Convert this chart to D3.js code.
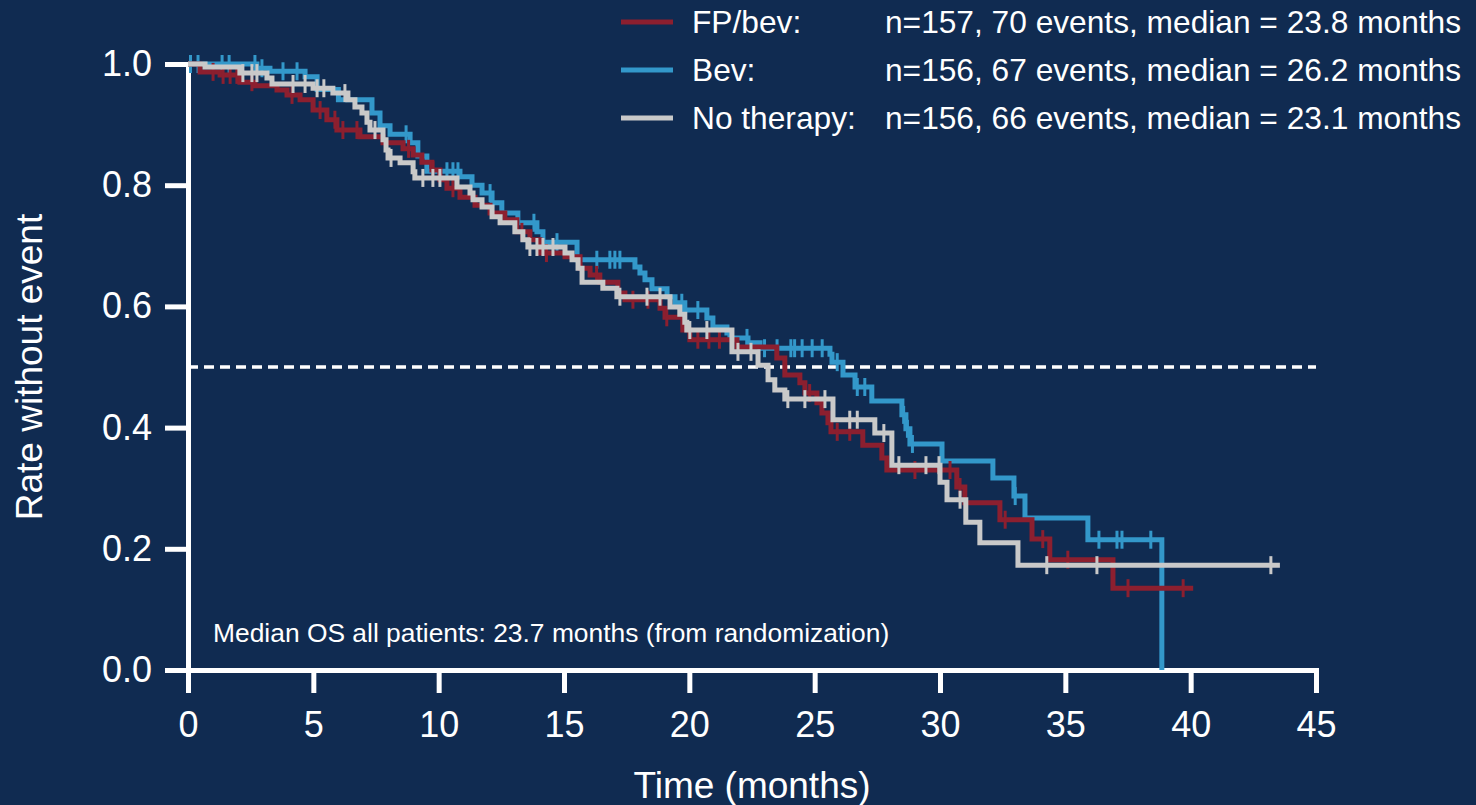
<!DOCTYPE html>
<html>
<head>
<meta charset="utf-8">
<script src="https://cdn.jsdelivr.net/npm/d3@7"></script>
<style>
  body { margin: 0; background: #102b51; }
  svg text { font-family: "Liberation Sans", Arial, sans-serif; fill: #fff; }
</style>
</head>
<body>
<div id="chart"></div>
<script>
// Kaplan-Meier steps: [time (months), rate after the event]
const fpbevSteps = [[0.48,0.987],[1.28,0.982],[2.07,0.970],[2.67,0.964],[3.55,0.957],[3.95,0.949],[4.47,0.941],[4.99,0.924],[5.54,0.908],[5.94,0.891],
  [6.86,0.880],[7.78,0.870],[8.58,0.860],[8.98,0.850],[9.33,0.838],[9.73,0.825],[10.05,0.809],[10.33,0.795],[10.85,0.780],[11.45,0.767],
  [12.05,0.754],[12.64,0.743],[13.12,0.723],[13.64,0.710],[14.04,0.688],[15.04,0.682],[15.64,0.663],[16.04,0.652],[16.43,0.640],[17.15,0.622],
  [17.43,0.611],[18.83,0.597],[19.03,0.582],[19.74,0.561],[20.02,0.545],[21.90,0.533],[23.49,0.515],[23.81,0.487],[24.41,0.474],[24.61,0.457],
  [25.09,0.441],[25.29,0.424],[25.53,0.408],[25.65,0.393],[26.92,0.371],[27.68,0.350],[27.88,0.330],[30.67,0.302],[30.99,0.276],[32.39,0.248],
  [33.67,0.216],[34.38,0.182],[36.90,0.135]];
const fpbevEnd = 40.1;
const fpbevCensor = [1.0,1.4,1.68,1.95,2.55,4.15,5.27,5.86,6.18,6.74,8.8,9.77,10.57,13.32,14.3,16.3,17.75,18.35,19.1,20.34,20.78,21.2,
  24.8,25.9,26.4,29.0,30.4,30.8,32.6,34.1,35.1,37.5,39.7];

const bevSteps = [[2.75,0.993],[3.27,0.988],[4.67,0.979],[5.15,0.958],[6.0,0.941],[7.34,0.919],[7.66,0.898],[8.06,0.884],[8.86,0.870],[9.17,0.848],
  [9.53,0.823],[10.85,0.814],[11.33,0.800],[11.73,0.787],[12.13,0.771],[12.52,0.754],[13.16,0.738],[13.92,0.723],[14.16,0.706],[15.52,0.677],
  [17.83,0.665],[18.03,0.655],[18.23,0.644],[18.51,0.629],[19.11,0.616],[19.43,0.606],[19.82,0.594],[20.70,0.581],[20.94,0.566],[21.50,0.556],
  [21.62,0.548],[22.34,0.540],[22.82,0.531],[25.61,0.521],[25.69,0.508],[26.13,0.487],[26.61,0.467],[27.28,0.444],[28.48,0.421],[28.64,0.398],
  [28.80,0.373],[30.08,0.345],[32.11,0.317],[32.95,0.287],[33.39,0.251],[35.90,0.215],[38.85,0]];
const bevEnd = 38.85;
const bevCensor = [0.1,0.4,1.36,1.64,2.67,2.95,3.79,4.35,8.7,10.33,10.57,10.77,12.05,13.8,14.72,16.31,16.83,17.03,17.23,19.7,20.34,
  22.3,23.0,23.5,24.05,24.2,24.5,24.9,25.3,25.9,26.7,27.0,28.55,28.7,28.9,33.0,36.34,37.06,37.26,38.41];

const noTherSteps = [[0.68,0.995],[2.07,0.985],[3.15,0.977],[3.35,0.967],[4.99,0.960],[5.78,0.952],[6.38,0.941],[6.66,0.929],[6.94,0.919],[7.14,0.904],
  [7.26,0.891],[7.78,0.875],[7.90,0.858],[7.98,0.845],[8.46,0.837],[8.98,0.822],[9.05,0.812],[10.73,0.797],[11.25,0.787],[11.37,0.776],
  [11.73,0.764],[12.13,0.748],[12.45,0.738],[13.04,0.723],[13.36,0.710],[13.56,0.698],[15.04,0.688],[15.32,0.677],[15.56,0.663],[15.72,0.640],
  [16.55,0.630],[17.11,0.616],[19.23,0.599],[19.62,0.587],[19.82,0.574],[19.90,0.561],[21.70,0.525],[22.74,0.503],[23.14,0.479],[23.41,0.462],
  [23.81,0.447],[25.73,0.413],[27.40,0.391],[28.08,0.338],[30.00,0.310],[30.28,0.281],[31.03,0.244],[31.59,0.210],[33.11,0.173]];
const noTherEnd = 43.56;
const noTherCensor = [2.19,2.55,2.75,4.19,4.67,5.15,5.42,6.26,7.46,8.1,9.37,9.77,10.05,13.64,13.92,14.16,14.56,17.23,18.31,18.83,20.02,20.70,
  21.94,22.46,23.93,24.61,25.41,26.4,26.7,27.76,28.36,29.44,29.96,30.8,34.26,36.26,43.2];

const groupNames = ["FP/bev:", "Bev:", "No therapy:"];
const groupStats = ["n=157, 70 events, median = 23.8 months",
  "n=156, 67 events, median = 26.2 months",
  "n=156, 66 events, median = 23.1 months"];
const xTicks = [0, 5, 10, 15, 20, 25, 30, 35, 40, 45];
const yTicks = [0, 0.2, 0.4, 0.6, 0.8, 1.0];
const medianLine = 0.5;
const note = "Median OS all patients: 23.7 months (from randomization)";

const W = 1476, H = 805;
const colors = ["#8c1f2f", "#3398ca", "#c9c9c9"];

const svg = d3.select("#chart").append("svg")
  .attr("width", W).attr("height", H);
svg.append("rect").attr("width", W).attr("height", H).attr("fill", "#102b51");

const x = d3.scaleLinear().domain([0, 45]).range([188, 1316]);
const y = d3.scaleLinear().domain([0, 1]).range([670, 64]);

// axes
const yAxis = svg.append("g").attr("transform", "translate(188,0)")
  .call(d3.axisLeft(y).tickValues(yTicks).tickFormat(d3.format(".1f"))
    .tickSize(23).tickSizeOuter(0).tickPadding(13));
const xAxis = svg.append("g").attr("transform", "translate(0,670)")
  .call(d3.axisBottom(x).tickValues(xTicks).tickSize(23).tickSizeOuter(0).tickPadding(18));

[yAxis, xAxis].forEach(g => {
  g.select(".domain").attr("stroke", "#fff").attr("stroke-width", 5).attr("stroke-linecap", "square");
  g.selectAll(".tick line").attr("stroke", "#fff").attr("stroke-width", 5);
  g.selectAll(".tick text").attr("fill", "#fff").style("font-size", "36px")
    .style("font-family", "'Liberation Sans', Arial, sans-serif");
});

// median reference
svg.append("line")
  .attr("x1", x(0)).attr("x2", x(45))
  .attr("y1", y(medianLine)).attr("y2", y(medianLine))
  .attr("stroke", "#fff").attr("stroke-width", 3.5).attr("stroke-dasharray", "10,6");

const line = d3.line()
  .x(d => x(d[0])).y(d => y(d[1]))
  .curve(d3.curveStepAfter);

function rateAt(steps, t) {
  let s = 1;
  steps.forEach(d => { if (d[0] <= t) s = d[1]; });
  return s;
}

const groups = [
  { steps: fpbevSteps, end: fpbevEnd, censor: fpbevCensor, color: colors[0] },
  { steps: bevSteps, end: bevEnd, censor: bevCensor, color: colors[1] },
  { steps: noTherSteps, end: noTherEnd, censor: noTherCensor, color: colors[2] }
];
// draw Bev first, FP/bev above it, no therapy on top
[1, 0, 2].forEach(i => {
  const g = groups[i];
  const pts = [[0, 1]].concat(g.steps);
  const last = pts[pts.length - 1];
  if (last[0] < g.end) pts.push([g.end, last[1]]);
  svg.append("path")
    .attr("d", line(pts))
    .attr("fill", "none")
    .attr("stroke", g.color)
    .attr("stroke-width", 5);
  svg.append("g").selectAll("line")
    .data(g.censor)
    .join("line")
    .attr("x1", d => x(d)).attr("x2", d => x(d))
    .attr("y1", d => y(rateAt(g.steps, d)) - 9)
    .attr("y2", d => y(rateAt(g.steps, d)) + 9)
    .attr("stroke", g.color)
    .attr("stroke-width", 3);
});

// legend
const legend = svg.append("g");
groupNames.forEach((name, i) => {
  const ly = 22 + i * 48;
  legend.append("line")
    .attr("x1", 621).attr("x2", 673).attr("y1", ly).attr("y2", ly)
    .attr("stroke", colors[i]).attr("stroke-width", 5);
  legend.append("text").attr("x", 692).attr("y", ly + 11)
    .style("font-size", "31.7px").text(name);
  legend.append("text").attr("x", 885).attr("y", ly + 11)
    .style("font-size", "31.7px").text(groupStats[i]);
});

svg.append("text").attr("x", 213).attr("y", 642)
  .style("font-size", "26.4px").text(note);

svg.append("text")
  .attr("x", (x(0) + x(45)) / 2).attr("y", 798)
  .attr("text-anchor", "middle")
  .style("font-size", "37px")
  .text("Time (months)");

svg.append("text")
  .attr("transform", "translate(42," + ((y(0) + y(1)) / 2) + ") rotate(-90)")
  .attr("text-anchor", "middle")
  .style("font-size", "37px")
  .text("Rate without event");
</script>
</body>
</html>
